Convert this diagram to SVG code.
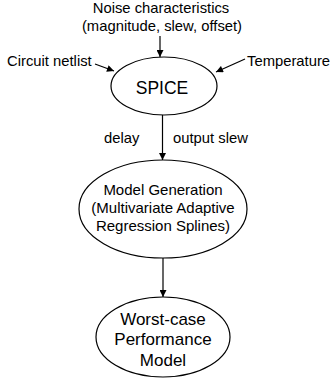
<svg xmlns="http://www.w3.org/2000/svg" width="333" height="386" viewBox="0 0 333 386">
<style>
text{font-family:"Liberation Sans",Arial,sans-serif;fill:#000}
.l{font-size:14.8px}
.n{fill:#fff;stroke:#000;stroke-width:1.2}
.c{stroke:#000;stroke-width:1.2;fill:none;marker-end:url(#ah)}
</style>
<defs><marker id="ah" viewBox="0 0 10 10" refX="10" refY="5" markerWidth="8" markerHeight="7" markerUnits="userSpaceOnUse" orient="auto"><path d="M0,0L10,5L0,10z" fill="#000"/></marker></defs>
<rect width="333" height="386" fill="#fff"/>
<g id="inputs">
<text class="l" x="161" y="13" text-anchor="middle">Noise characteristics</text>
<text class="l" x="162" y="31" text-anchor="middle">(magnitude, slew, offset)</text>
<text class="l" x="7" y="66">Circuit netlist</text>
<text class="l" x="247" y="66">Temperature</text>
</g>
<g id="spice"><ellipse class="n" cx="164" cy="86" rx="53" ry="29"/><text x="162" y="94" font-size="17.5" text-anchor="middle">SPICE</text></g>
<g id="model"><ellipse class="n" cx="163" cy="209" rx="84" ry="49"/>
<text font-size="15" text-anchor="middle"><tspan x="163" y="195">Model Generation</tspan><tspan x="163" y="213">(Multivariate Adaptive</tspan><tspan x="163" y="231">Regression Splines)</tspan></text></g>
<g id="worst"><ellipse class="n" cx="163" cy="337" rx="67" ry="40"/>
<text font-size="17" text-anchor="middle"><tspan x="163" y="325">Worst-case</tspan><tspan x="163" y="345">Performance</tspan><tspan x="163" y="366">Model</tspan></text></g>
<g id="connectors">
<line class="c" x1="160" y1="36" x2="160" y2="57"/>
<line class="c" x1="95" y1="64" x2="114" y2="71"/>
<line class="c" x1="245" y1="59" x2="216" y2="72"/>
<line class="c" x1="162.5" y1="115" x2="162.5" y2="160"/>
<line class="c" x1="163" y1="258" x2="163" y2="297"/>
<text class="l" x="104" y="143">delay</text>
<text class="l" x="173" y="143">output slew</text>
</g>
</svg>
